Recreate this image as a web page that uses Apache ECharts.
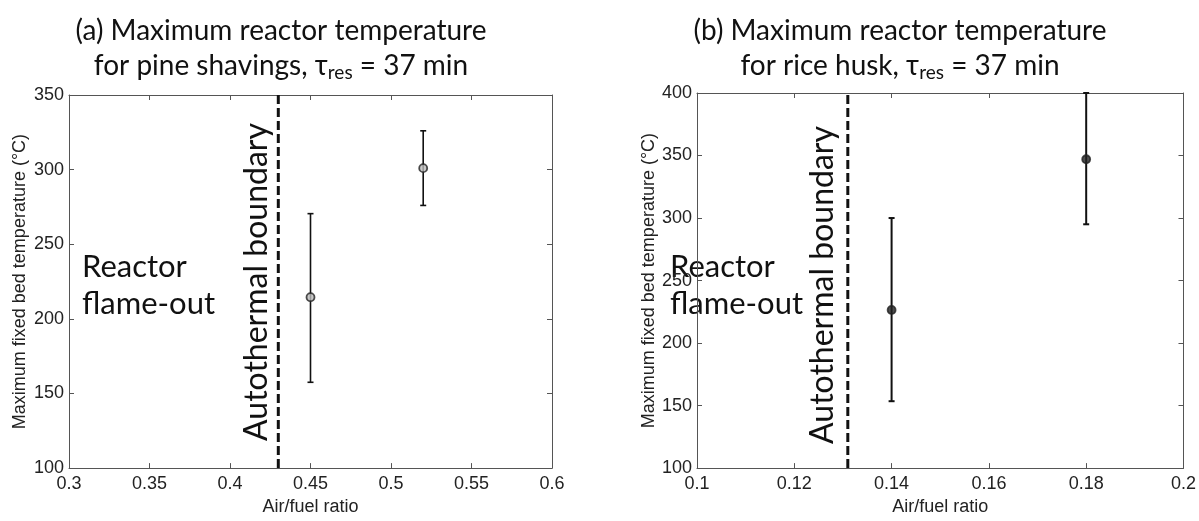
<!DOCTYPE html>
<html>
<head>
<meta charset="utf-8">
<script src="https://cdn.jsdelivr.net/npm/echarts@6/dist/echarts.min.js"></script>
<style>html,body{margin:0;padding:0;background:#fff;}#c{width:1199px;height:521px;}</style>
</head>
<body>
<div id="c"></div>
<script>
// ---- Data ----
// Panel (a): pine shavings
const pineAirFuel = [0.45, 0.52];
const pineTemp = [214.5, 301];
const pineLow = [157.5, 276];
const pineHigh = [270.5, 326];
const pineBoundary = 0.43;
// Panel (b): rice husk
const riceAirFuel = [0.14, 0.18];
const riceTemp = [226.5, 347];
const riceLow = [153.5, 295];
const riceHigh = [300, 400];
const riceBoundary = 0.131;
// Axis ranges / ticks
const pineX = {min: 0.3, max: 0.6, interval: 0.05};
const pineY = {min: 100, max: 350, interval: 50};
const riceX = {min: 0.1, max: 0.2, interval: 0.02};
const riceY = {min: 100, max: 400, interval: 50};
const titleA = ['(a) Maximum reactor temperature', 'for pine shavings, '];
const titleB = ['(b) Maximum reactor temperature', 'for rice husk, '];
const yName = 'Maximum fixed bed temperature (°C)';
const xName = 'Air/fuel ratio';

const chart = echarts.init(document.getElementById('c'));
const TICK_FONT = 'Liberation Sans';
const TITLE_FONT = 'Lato';
const axisLineStyle = {color: '#555', width: 1};

function mainX(grid, r) {
  return {
    type: 'value', gridIndex: grid, min: r.min, max: r.max, interval: r.interval,
    name: xName, nameLocation: 'middle', nameGap: 23,
    nameTextStyle: {fontFamily: TICK_FONT, fontSize: 18, color: '#222'},
    axisLine: {show: true, onZero: false, lineStyle: axisLineStyle},
    axisTick: {show: true, inside: true, length: 5, lineStyle: axisLineStyle},
    axisLabel: {fontFamily: TICK_FONT, fontSize: 18, color: '#222', margin: 7},
    splitLine: {show: false}
  };
}
function mirrorX(grid, r) {
  return {
    type: 'value', gridIndex: grid, position: 'top', min: r.min, max: r.max, interval: r.interval,
    axisLine: {show: true, onZero: false, lineStyle: axisLineStyle},
    axisTick: {show: true, inside: true, length: 5, lineStyle: axisLineStyle},
    axisLabel: {show: false}, splitLine: {show: false}
  };
}
function mainY(grid, r, gap) {
  return {
    type: 'value', gridIndex: grid, min: r.min, max: r.max, interval: r.interval,
    name: yName, nameLocation: 'middle', nameGap: gap,
    nameTextStyle: {fontFamily: TICK_FONT, fontSize: 18, color: '#222'},
    axisLine: {show: true, onZero: false, lineStyle: axisLineStyle},
    axisTick: {show: true, inside: true, length: 5, lineStyle: axisLineStyle},
    axisLabel: {fontFamily: TICK_FONT, fontSize: 18, color: '#222', margin: 5},
    splitLine: {show: false}
  };
}
function mirrorY(grid, r) {
  return {
    type: 'value', gridIndex: grid, position: 'right', min: r.min, max: r.max, interval: r.interval,
    axisLine: {show: true, onZero: false, lineStyle: axisLineStyle},
    axisTick: {show: true, inside: true, length: 5, lineStyle: axisLineStyle},
    axisLabel: {show: false}, splitLine: {show: false}
  };
}

function errorSeries(xi, yi, xs, lo, hi, lw) {
  return {
    type: 'custom', xAxisIndex: xi, yAxisIndex: yi,
    data: xs.map((x, i) => [x, lo[i], hi[i]]),
    renderItem: function (params, api) {
      const a = api.coord([api.value(0), api.value(1)]);
      const b = api.coord([api.value(0), api.value(2)]);
      const w = 3;
      const st = {stroke: '#111', lineWidth: lw};
      return {type: 'group', children: [
        {type: 'line', shape: {x1: a[0], y1: a[1], x2: b[0], y2: b[1]}, style: st},
        {type: 'line', shape: {x1: a[0]-w, y1: a[1], x2: a[0]+w, y2: a[1]}, style: st},
        {type: 'line', shape: {x1: b[0]-w, y1: b[1], x2: b[0]+w, y2: b[1]}, style: st}
      ]};
    },
    z: 3
  };
}
function pointSeries(xi, yi, xs, ys, fill) {
  return {
    type: 'scatter', xAxisIndex: xi, yAxisIndex: yi,
    data: xs.map((x, i) => [x, ys[i]]),
    symbol: 'circle', symbolSize: 8,
    itemStyle: {color: fill, borderColor: '#222', borderWidth: 1.8},
    z: 4
  };
}
function boundarySeries(xi, yi, bx, r) {
  return {
    type: 'line', xAxisIndex: xi, yAxisIndex: yi,
    data: [[bx, r.min], [bx, r.max]],
    symbol: 'none',
    lineStyle: {color: '#111', width: 3, type: [9, 4]},
    z: 2
  };
}

const rich = {
  t: {fontFamily: TITLE_FONT, fontSize: 28, color: '#111'},
  sub: {fontFamily: TITLE_FONT, fontSize: 19, color: '#111', padding: [14, 0, 0, 0]}
};
function titleOf(lines, cx) {
  return {
    text: '{t|' + lines[0] + '}\n{t|' + lines[1] + 'τ}{sub|res}{t| = 37 min}',
    left: cx, top: 8, textAlign: 'center',
    textStyle: {fontFamily: TITLE_FONT, fontSize: 28, fontWeight: 'normal', color: '#111', lineHeight: 35, rich: rich}
  };
}

const annoFont = {fontFamily: TITLE_FONT, fontSize: 31, fill: '#111'};
const rotFont = {fontFamily: TITLE_FONT, fontSize: 32, fill: '#111'};

chart.setOption({
  animation: false,
  title: [titleOf(titleA, 276), titleOf(titleB, 895)],
  grid: [
    {left: 69, top: 95, width: 483, height: 382},
    {left: 697, top: 93, width: 487, height: 384}
  ],
  xAxis: [mainX(0, pineX), mirrorX(0, pineX), mainX(1, riceX), mirrorX(1, riceX)],
  yAxis: [mainY(0, pineY, 40), mirrorY(0, pineY), mainY(1, riceY, 38), mirrorY(1, riceY)],
  series: [
    boundarySeries(0, 0, pineBoundary, pineY),
    errorSeries(0, 0, pineAirFuel, pineLow, pineHigh, 1.6),
    pointSeries(0, 0, pineAirFuel, pineTemp, '#bbb'),
    boundarySeries(2, 2, riceBoundary, riceY),
    errorSeries(2, 2, riceAirFuel, riceLow, riceHigh, 2),
    pointSeries(2, 2, riceAirFuel, riceTemp, '#222')
  ],
  graphic: [
    {type: 'text', left: 82, top: 248, style: Object.assign({text: 'Reactor\nflame-out', lineHeight: 37}, annoFont)},
    {type: 'text', left: 670, top: 248, style: Object.assign({text: 'Reactor\nflame-out', lineHeight: 37}, annoFont)},
    {type: 'text', x: 257, y: 282, rotation: Math.PI / 2, style: Object.assign({text: 'Autothermal boundary', align: 'center', verticalAlign: 'middle'}, rotFont)},
    {type: 'text', x: 823, y: 285, rotation: Math.PI / 2, style: Object.assign({text: 'Autothermal boundary', align: 'center', verticalAlign: 'middle'}, rotFont)}
  ]
});
</script>
</body>
</html>
